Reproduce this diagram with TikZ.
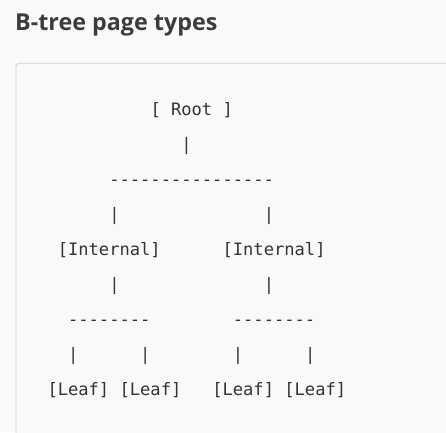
\documentclass[tikz,border=0pt]{standalone}
\usepackage{fontspec}
\setsansfont{Open Sans}
\setmonofont{DejaVu Sans Mono}
\usetikzlibrary{positioning}

\definecolor{pagebg}{HTML}{FAFAFA}
\definecolor{blockbg}{HTML}{F9F9F9}
\definecolor{blockline}{HTML}{D2D2D2}
\definecolor{headtext}{HTML}{3C3C3C}
\definecolor{codetext}{HTML}{333333}

\begin{document}
\begin{tikzpicture}[x=10.3pt, y=-35.1pt]
  \tikzset{
    heading/.style={font=\sffamily\bfseries\fontsize{23.3}{28}\selectfont, text=headtext, inner sep=0pt, anchor=base west},
    code/.style={font=\ttfamily\fontsize{17.1}{20}\selectfont, text=codetext, inner sep=0pt, anchor=base west},
    codeblock/.style={draw=blockline, fill=blockbg, line width=0.8pt, rounded corners=3pt}
  }
  \useasboundingbox[fill=pagebg] (0pt,0pt) rectangle (446pt,-432pt);

  % Title and code block
  \node[heading] (title) at (15pt,-30pt) {B-tree page types};
  \begin{scope}
    \clip (0pt,0pt) rectangle (446pt,-432pt);
    \draw[codeblock] (16pt,-63.3pt) rectangle (470pt,-460pt);
  \end{scope}

  % Pages (column, line)
  \begin{scope}[shift={(47.3pt,-115pt)}]
    \node[code] (root) at (10,0) {[ Root ]};
    \node[code] (int-l) at (1,4) {[Internal]};
    \node[code] (int-r) at (17,4) {[Internal]};
    \node[code] (leaf-1) at (0,8) {[Leaf]};
    \node[code] (leaf-2) at (7,8) {[Leaf]};
    \node[code] (leaf-3) at (16,8) {[Leaf]};
    \node[code] (leaf-4) at (23,8) {[Leaf]};

    % Links
    \node[code] (root-bar) at (13,1) {|};
    \node[code] (root-rule) at (6,2) {----------------};
    \node[code] (int-l-up) at (6,3) {|};
    \node[code] (int-r-up) at (21,3) {|};
    \node[code] (int-l-down) at (6,5) {|};
    \node[code] (int-r-down) at (21,5) {|};
    \node[code] (int-l-rule) at (2,6) {--------};
    \node[code] (int-r-rule) at (18,6) {--------};
    \node[code] (leaf-1-up) at (2,7) {|};
    \node[code] (leaf-2-up) at (9,7) {|};
    \node[code] (leaf-3-up) at (18,7) {|};
    \node[code] (leaf-4-up) at (25,7) {|};
  \end{scope}
\end{tikzpicture}
\end{document}
